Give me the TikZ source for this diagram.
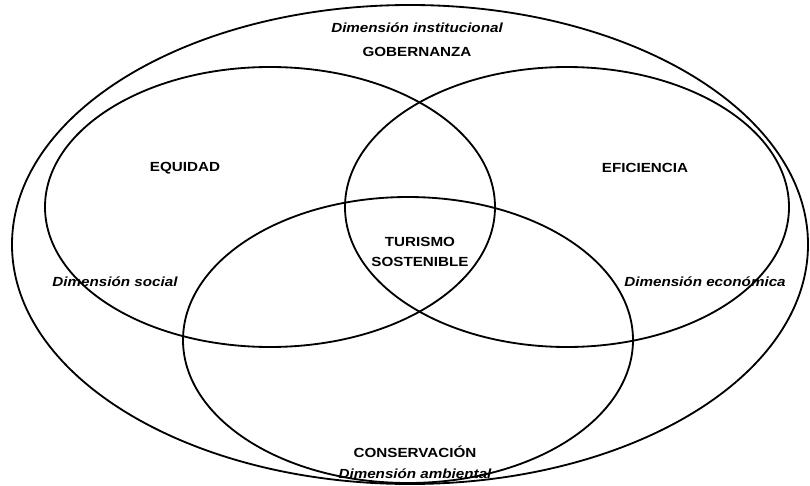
\documentclass[tikz,border=0pt]{standalone}
\usepackage{fontspec}
\setmainfont{Liberation Sans}
\usepackage{tikz}
\usetikzlibrary{shapes.geometric,positioning}

\begin{document}
\begin{tikzpicture}[x=0.025cm, y=-0.025cm, line width=1.3pt]
   \useasboundingbox (0,0) rectangle (810,486);
   % dimensiones
   \draw (410,244.5) ellipse [x radius=398, y radius=239.5];
   \draw (270,207) ellipse [x radius=225, y radius=140];
   \draw (567,207) ellipse [x radius=222, y radius=140];
   \draw (408,340) ellipse [x radius=225, y radius=143];
   \begin{scope}[every node/.style={font=\bfseries\fontsize{9.4}{14}\selectfont, xscale=1.15, transform shape, inner sep=0pt, align=center}]
    \node (inst) at (417,28) {\itshape Dimensión institucional};
    \node (gob) at (417,52) {GOBERNANZA};
    \node (equi) at (185,168) {EQUIDAD};
    \node (efic) at (645,168) {EFICIENCIA};
    \node (tur) at (420,252) {TURISMO\\SOSTENIBLE};
    \node (soc) at (115,282) {\itshape Dimensión social};
    \node (eco) at (705,282) {\itshape Dimensión económica};
    \node (cons) at (415,452) {CONSERVACIÓN};
    \node (amb) at (415,474) {\itshape Dimensión ambiental};
   \end{scope}
\end{tikzpicture}
\end{document}
